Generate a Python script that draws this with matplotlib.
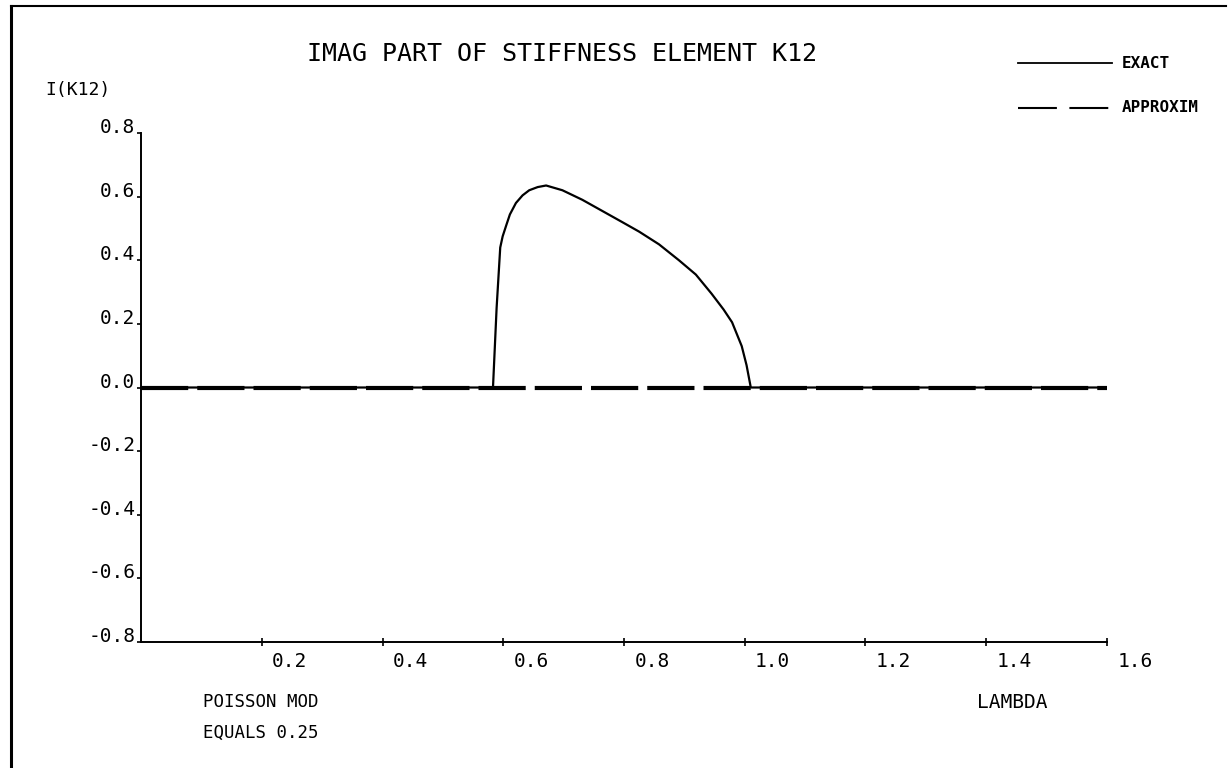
import matplotlib
matplotlib.use("Agg")
import matplotlib.pyplot as plt
from matplotlib.lines import Line2D
from matplotlib.transforms import ScaledTranslation

# ---- data ----
exact_x = [0.0, 0.583, 0.589, 0.595, 0.599, 0.605, 0.611, 0.621, 0.632, 0.643,
           0.657, 0.671, 0.698, 0.731, 0.764, 0.797, 0.825, 0.858, 0.891,
           0.919, 0.945, 0.965, 0.979, 0.995, 1.003, 1.010, 1.6]
exact_y = [0.0, 0.0, 0.25, 0.44, 0.475, 0.51, 0.544, 0.58, 0.604, 0.62,
           0.63, 0.635, 0.62, 0.59, 0.555, 0.52, 0.49, 0.45, 0.40,
           0.355, 0.295, 0.245, 0.205, 0.13, 0.07, 0.0, 0.0]
approx_x = [0.0, 1.6]
approx_y = [0.0, 0.0]

x_ticks = [0.2, 0.4, 0.6, 0.8, 1.0, 1.2, 1.4, 1.6]
x_labels = ["0.2", "0.4", "0.6", "0.8", "1.0", "1.2", "1.4", "1.6"]
y_ticks = [-0.8, -0.6, -0.4, -0.2, 0.0, 0.2, 0.4, 0.6, 0.8]
y_labels = ["-0.8", "-0.6", "-0.4", "-0.2", "0.0", "0.2", "0.4", "0.6", "0.8"]

title = "IMAG PART OF STIFFNESS ELEMENT K12"
ylabel = "I(K12)"
xlabel = "LAMBDA"
note1 = "POISSON MOD"
note2 = "EQUALS 0.25"
legend_labels = ["EXACT", "APPROXIM"]

MONO = "DejaVu Sans Mono"
plt.rcParams["lines.scale_dashes"] = False

W, H = 1228, 768
fig = plt.figure(figsize=(W / 100, H / 100), dpi=100)
fig.patch.set_facecolor("white")

def fx(px):
    return px / W

def fy(py):
    return 1 - py / H

ax = fig.add_axes([fx(141), fy(642), fx(1107) - fx(141), fy(133) - fy(642)])
ax.set_xlim(0, 1.6)
ax.set_ylim(-0.8, 0.8)
for s in ["top", "right"]:
    ax.spines[s].set_visible(False)
for s in ["left", "bottom"]:
    ax.spines[s].set_linewidth(1.4)
    ax.spines[s].set_color("black")

ax.plot(exact_x, exact_y, color="black", lw=1.6, solid_joinstyle="round",
        solid_capstyle="round")
ax.plot(approx_x, approx_y, color="black", lw=3.0, linestyle=(0, (34, 6.5)))

ax.set_xticks(x_ticks)
ax.set_xticklabels(x_labels, fontfamily=MONO, fontsize=14)
ax.set_yticks(y_ticks)
ax.set_yticklabels(y_labels, fontfamily=MONO, fontsize=14)
ax.tick_params(axis="x", direction="inout", length=6, width=1.2, pad=4)
ax.tick_params(axis="y", direction="out", length=3, width=1.2, pad=1)

xoff = ScaledTranslation(0.28, 0, fig.dpi_scale_trans)
for lab in ax.get_xticklabels():
    lab.set_transform(lab.get_transform() + xoff)
for lab in ax.get_yticklabels():
    lab.set_verticalalignment("baseline")

# title and labels
fig.text(fx(307), fy(54), title, fontfamily=MONO, fontsize=18,
         ha="left", va="center")
fig.text(fx(45), fy(90), ylabel, fontfamily=MONO, fontsize=13,
         ha="left", va="center")
fig.text(fx(977), fy(702), xlabel, fontfamily=MONO, fontsize=14,
         ha="left", va="center")
fig.text(fx(203), fy(702), note1, fontfamily=MONO, fontsize=12.5,
         ha="left", va="center")
fig.text(fx(203), fy(733), note2, fontfamily=MONO, fontsize=12.5,
         ha="left", va="center")

# legend
fig.add_artist(Line2D([fx(1018), fx(1112)], [fy(63), fy(63)],
                      color="black", lw=1.3, transform=fig.transFigure))
fig.add_artist(Line2D([fx(1018), fx(1110)], [fy(108), fy(108)],
                      color="black", lw=1.5, linestyle=(0, (28, 9)),
                      transform=fig.transFigure))
fig.text(fx(1122), fy(63), legend_labels[0], fontfamily=MONO, fontsize=11.5,
         fontweight="bold", ha="left", va="center")
fig.text(fx(1122), fy(108), legend_labels[1], fontfamily=MONO, fontsize=11.5,
         fontweight="bold", ha="left", va="center")

# page border (left and top)
fig.add_artist(Line2D([fx(11), fx(11)], [fy(6), 0.0], color="black", lw=2.2,
                      transform=fig.transFigure))
fig.add_artist(Line2D([fx(11), fx(1226)], [fy(6), fy(6)], color="black", lw=1.5,
                      transform=fig.transFigure))

fig.savefig("out.png", dpi=100, facecolor="white")
